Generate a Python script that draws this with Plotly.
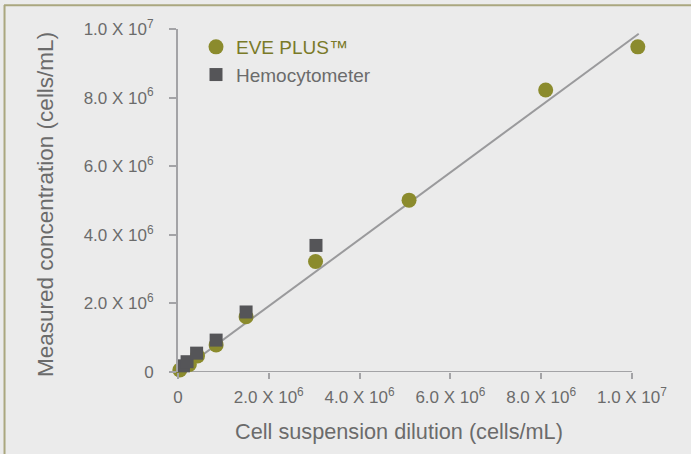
import plotly.graph_objects as go

# Data
eve_x = [0.04e6, 0.25e6, 0.43e6, 0.84e6, 1.50e6, 3.03e6, 5.09e6, 8.10e6, 1.013e7]
eve_y = [0.06e6, 0.22e6, 0.47e6, 0.79e6, 1.61e6, 3.22e6, 5.01e6, 8.22e6, 9.48e6]

hemo_x = [0.12e6, 0.20e6, 0.41e6, 0.84e6, 1.50e6, 3.04e6]
hemo_y = [0.18e6, 0.30e6, 0.55e6, 0.93e6, 1.75e6, 3.69e6]

trend_x = [0.0, 1.015e7]
trend_y = [-0.03e6, 9.86e6]

tick_vals = [0, 2e6, 4e6, 6e6, 8e6, 1e7]
tick_text = ["0", "2.0 X 10<sup>6</sup>", "4.0 X 10<sup>6</sup>", "6.0 X 10<sup>6</sup>",
             "8.0 X 10<sup>6</sup>", "1.0 X 10<sup>7</sup>"]

OLIVE = "#8b8b2d"
DARK = "#555558"
AXIS = "#a3a3a6"
TEXT = "#6b6b6b"
FONT = "Liberation Sans, Arial, sans-serif"

fig = go.Figure()
fig.add_trace(go.Scatter(x=trend_x, y=trend_y, mode="lines",
                         line=dict(color="#9a9a9c", width=2),
                         showlegend=False, hoverinfo="skip", cliponaxis=False))
fig.add_trace(go.Scatter(x=eve_x, y=eve_y, mode="markers",
                         name="<span style='color:#7a7a28'>EVE PLUS™</span>",
                         legendgroup="a",
                         marker=dict(symbol="circle", size=15, color=OLIVE, line=dict(width=0)),
                         cliponaxis=False))
fig.add_trace(go.Scatter(x=hemo_x, y=hemo_y, mode="markers", name="Hemocytometer",
                         legendgroup="b",
                         marker=dict(symbol="square", size=13, color=DARK, line=dict(width=0)),
                         cliponaxis=False))

axis_common = dict(
    tickmode="array", tickvals=tick_vals, ticktext=tick_text,
    showgrid=False, zeroline=False, linecolor=AXIS, linewidth=2,
    ticks="outside", tickcolor=AXIS, tickwidth=2,
    tickfont=dict(family=FONT, size=17, color=TEXT),
)

X_MAX = 1.02e7
fig.update_xaxes(**axis_common, range=[0, X_MAX], showline=False, ticklen=6, ticklabelstandoff=4)
fig.update_yaxes(**axis_common, range=[0, 1e7], showline=True, ticklen=7, ticklabelstandoff=12)

W, H = 691, 454
L, T, B = 178, 29, 82
pw = 454 * X_MAX / 1e7
R = W - L - pw
ph = H - T - B

def px(xp):
    return (xp - L) / pw

def py(yp):
    return (H - B - yp) / ph

fig.update_layout(
    width=W, height=H,
    margin=dict(l=L, r=R, t=T, b=B, pad=0),
    paper_bgcolor="#ebebeb", plot_bgcolor="#ebebeb",
    font=dict(family=FONT, color=TEXT),
    showlegend=True,
    legend=dict(x=px(196), y=py(28), xanchor="left", yanchor="top",
                bgcolor="rgba(0,0,0,0)", traceorder="grouped", tracegroupgap=0,
                font=dict(family=FONT, size=19, color=TEXT)),
    annotations=[
        dict(text="Cell suspension dilution (cells/mL)", xref="paper", yref="paper",
             x=px(399), y=py(432), xanchor="center", yanchor="middle", showarrow=False,
             font=dict(family=FONT, size=21.7, color=TEXT)),
        dict(text="Measured concentration (cells/mL)", xref="paper", yref="paper",
             x=px(45), y=py(205), xanchor="center", yanchor="middle", showarrow=False,
             textangle=-90, font=dict(family=FONT, size=22.5, color=TEXT)),
    ],
    shapes=[
        dict(type="line", xref="x", yref="y", x0=0, x1=1e7, y0=0, y1=0, layer="below",
             line=dict(color=AXIS, width=2)),
        dict(type="line", xref="paper", yref="paper", x0=px(4.5), x1=px(4.5), y0=py(5), y1=py(460),
             line=dict(color="#aaa77f", width=2)),
        dict(type="line", xref="paper", yref="paper", x0=px(4), x1=px(700), y0=py(5.3), y1=py(5.3),
             line=dict(color="#aaa77f", width=2)),
    ],
)

fig.write_html("out.html", config={"displayModeBar": False},
               post_script="document.body.style.margin='0';")
